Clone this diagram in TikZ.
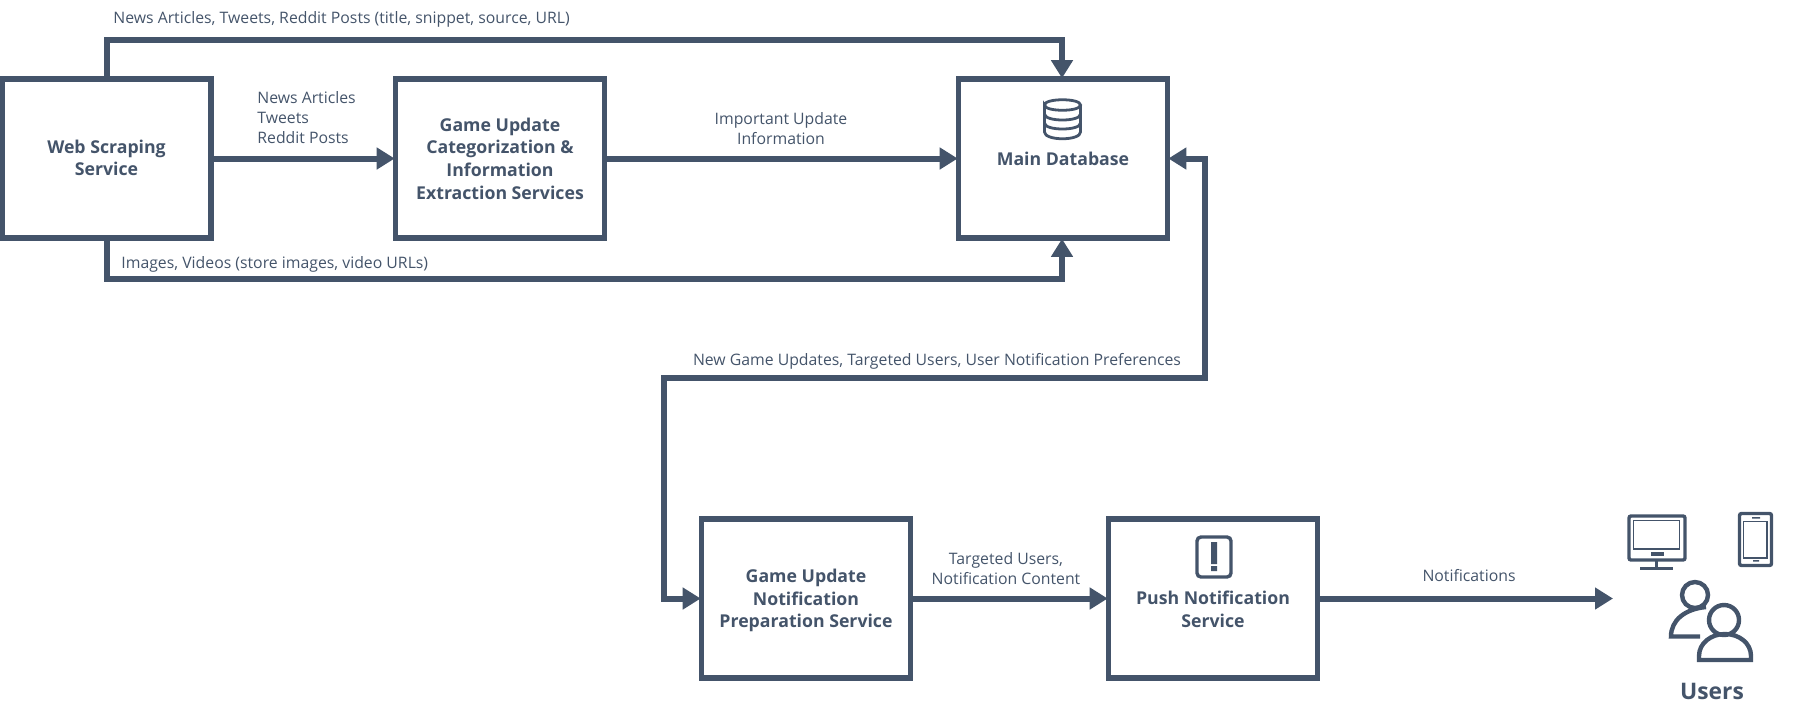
\documentclass[tikz,border=0pt]{standalone}
\usepackage{fontspec}
\setmainfont{Open Sans}
\usetikzlibrary{arrows.meta}
\definecolor{slate}{HTML}{44546A}
\begin{document}
\begin{tikzpicture}[x=0.5pt,y=-0.5pt,color=slate]

    \tikzstyle{service}=[rectangle,draw=slate,line width=2.8pt,fill=white,minimum width=104.5pt,minimum height=79.5pt]
    \tikzstyle{boxtext}=[align=center,inner sep=0pt,font=\fontsize{8.85pt}{11.3pt}\selectfont\bfseries,text=slate]
    \tikzstyle{flowtext}=[align=center,inner sep=0pt,font=\fontsize{7.9pt}{10pt}\selectfont,text=slate]
    \tikzstyle{flow}=[draw=slate,line width=3pt,shorten >=-1pt,-{Triangle[length=9pt,width=10.5pt]}]
    \tikzstyle{icon}=[draw=slate,line width=1.4pt]

    \useasboundingbox (0,0) rectangle (1808,719);

    \node[service] (web)    at (106.5,158.5) {};
    \node[service] (categ)  at (500,158.5)   {};
    \node[service] (maindb) at (1063,158.5)  {};
    \node[service] (prep)   at (806,598.5)   {};
    \node[service] (push)   at (1213,598.5)  {};
    \coordinate (usersin) at (1611,598.5);

    \node[boxtext] (webtext)   at (106.5,158)  {Web Scraping\\Service};
    \node[boxtext] (categtext) at (500,158.5)  {Game Update\\Categorization \&\\Information\\Extraction Services};
    \node[boxtext] (dbtext)    at (1063,158.5) {Main Database};
    \node[boxtext] (preptext)  at (806,600.5)  {Game Update\\Notification\\Preparation Service};
    \node[boxtext] (pushtext)  at (1213,609.5) {Push Notification\\Service};
    \node[boxtext,font=\fontsize{11.4pt}{13pt}\selectfont\bfseries] (userstext) at (1712,691) {Users};

    \draw[flow] (web.east) -- (categ.west);
    \draw[flow] (categ.east) -- (maindb.west);
    \draw[flow] (web.north) -- ++(0,-36) -| ([xshift=-0.5pt]maindb.north);
    \draw[flow] (web.south) -- ++(0,38) -| ([xshift=-0.5pt]maindb.south);
    \draw[flow] (prep.east) -- (push.west);
    \draw[flow] (push.east) -- (usersin);
    \draw[draw=slate,line width=3pt,{Triangle[length=9pt,width=10.5pt]}-{Triangle[length=9pt,width=10.5pt]},shorten <=-1pt,shorten >=-1pt] (maindb.east) -- ++(35,0) -- ++(0,219) -- ++(-541,0) -- ++(0,221) -- (prep.west);

    \node[flowtext,anchor=west] (toplabel)  at (113,19.5) {News Articles, Tweets, Reddit Posts (title, snippet, source, URL)};
    \node[flowtext,anchor=west,align=left] (scraped) at (257,117.5) {News Articles\\Tweets\\Reddit Posts};
    \node[flowtext,anchor=west] (imglabel)  at (121,264) {Images, Videos (store images, video URLs)};
    \node[flowtext] (important) at (781,128.5) {Important Update\\Information};
    \node[flowtext] (newgame)   at (937,361) {New Game Updates, Targeted Users, User Notification Preferences};
    \node[flowtext] (targeted)  at (1006,568.5) {Targeted Users,\\Notification Content};
    \node[flowtext] (notiflbl)  at (1469,576) {Notifications};

    \draw[icon] (1044.5,105) .. controls (1044.5,98) and (1080.5,98) .. (1080.5,105)
                             .. controls (1080.5,112) and (1044.5,112) .. (1044.5,105)
                             -- (1044.5,132) .. controls (1044.5,141) and (1080.5,141) .. (1080.5,132) -- (1080.5,105)
                (1044.5,114) .. controls (1044.5,122) and (1080.5,122) .. (1080.5,114)
                (1044.5,123) .. controls (1044.5,131) and (1080.5,131) .. (1080.5,123);

    \draw[icon,line width=1.7pt,rounded corners=2pt] (1197,537) rectangle (1231,577);
    \fill (1211,542) rectangle (1217,564)
          (1211,566) rectangle (1217,571);

    \draw[icon,line width=1.7pt,rounded corners=1pt] (1629,516) rectangle (1685,560);
    \draw[icon,line width=0.8pt] (1633.5,520.5) rectangle (1679.5,549);
    \fill (1651,552) rectangle (1664,555.5);
    \draw[icon,line width=1.5pt] (1656.5,560) -- (1656.5,568)
                                 (1640,568) -- (1673,568);

    \draw[icon,line width=1.7pt,rounded corners=1pt] (1739.5,513.5) rectangle (1771.5,565.5);
    \draw[icon,line width=0.8pt] (1743.5,521.5) rectangle (1767,558);
    \fill (1752,517) rectangle (1760,518.5)
          (1753,560) rectangle (1759,561.5);

    \draw[icon,line width=2.2pt] (1695,595) circle (13)
                               (1724,620) circle (15)
                               (1699,660) -- (1699,656)
                               .. controls (1699,643) and (1711,634) .. (1725,634)
                               .. controls (1739,634) and (1751,643) .. (1751,656)
                               -- (1751,660) -- cycle
                               (1700,636.5) -- (1671,636.5)
                               .. controls (1671,620) and (1685,609) .. (1706,607);

\end{tikzpicture}
\end{document}
